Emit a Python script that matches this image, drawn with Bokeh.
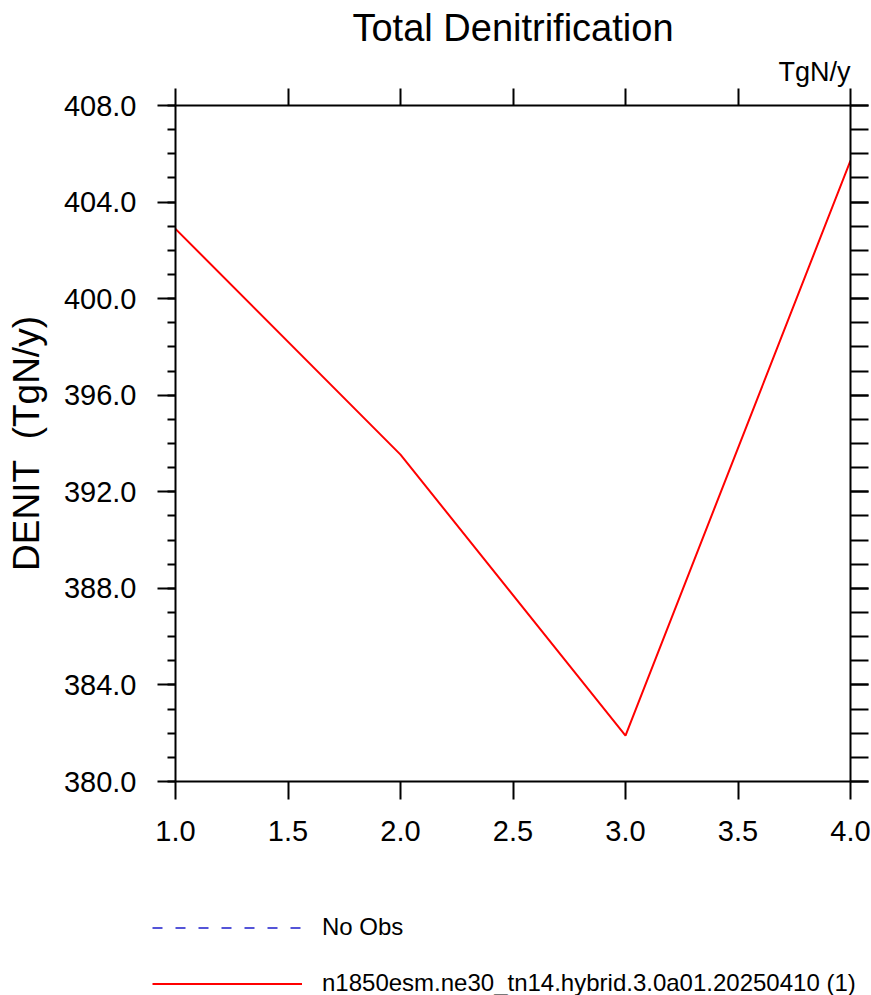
from bokeh.plotting import figure
from bokeh.layouts import column
from bokeh.models import (LinearAxis, FixedTicker, NumeralTickFormatter, Title,
                          Legend, LegendItem, Range1d)
from bokeh.embed import file_html
from bokeh.resources import INLINE

# ---- data ----
case_x = [1.0, 2.0, 3.0, 4.0]
denit = [402.89, 393.54, 381.9, 405.72]
obs_x = []
obs_y = []
x_ticks = [1.0, 1.5, 2.0, 2.5, 3.0, 3.5, 4.0]
y_ticks = [380, 384, 388, 392, 396, 400, 404, 408]
y_minor = list(range(380, 409))
title_text = "Total Denitrification"
units_text = "TgN/y"
ylabel_text = "DENIT\u00a0 (TgN/y)"
obs_label = "No Obs"
case_label = "n1850esm.ne30_tn14.hybrid.3.0a01.20250410 (1)"

FONT = "Liberation Sans"
RED = "red"
BLUE = "#1c1ccc"

p = figure(frame_width=675, frame_height=676,
           min_border_left=175, min_border_right=21,
           min_border_top=105, min_border_bottom=75,
           x_range=Range1d(1, 4), y_range=Range1d(380, 408),
           x_axis_location=None, y_axis_location=None,
           output_backend="svg", toolbar_location=None)
p.outline_line_color = None
p.background_fill_color = "white"
p.border_fill_color = "white"
p.xgrid.grid_line_color = None
p.ygrid.grid_line_color = None


def style_axis(ax, tick_out, minor_out, ticks, labels, standoff=0):
    ax.axis_line_width = 2
    ax.axis_line_color = "black"
    ax.major_tick_line_width = 2
    ax.minor_tick_line_width = 2
    ax.major_tick_in = 0
    ax.minor_tick_in = 0
    ax.major_tick_out = tick_out
    ax.minor_tick_out = minor_out
    if labels:
        ax.major_label_text_font = FONT
        ax.major_label_text_font_size = "29px"
        ax.major_label_text_color = "black"
        ax.major_label_standoff = standoff
    else:
        ax.major_label_overrides = {t: "" for t in ticks}
        ax.major_label_text_font_size = "1px"
        ax.major_label_standoff = 0


fmt = NumeralTickFormatter(format="0.0")

left = LinearAxis(ticker=FixedTicker(ticks=y_ticks, minor_ticks=y_minor), formatter=fmt)
style_axis(left, 18, 8, y_ticks, True, 21)
left.axis_label = ylabel_text
left.axis_label_text_font = FONT
left.axis_label_text_font_size = "37px"
left.axis_label_text_font_style = "normal"
left.axis_label_text_color = "black"
left.axis_label_standoff = 14
p.add_layout(left, "left")

right = LinearAxis(ticker=FixedTicker(ticks=y_ticks, minor_ticks=y_minor), formatter=fmt)
style_axis(right, 18, 18, y_ticks, False)
p.add_layout(right, "right")

bottom = LinearAxis(ticker=FixedTicker(ticks=x_ticks, minor_ticks=[]), formatter=fmt)
style_axis(bottom, 18, 0, x_ticks, True, 21)
p.add_layout(bottom, "below")

top = LinearAxis(ticker=FixedTicker(ticks=x_ticks, minor_ticks=[]), formatter=fmt)
style_axis(top, 17, 0, x_ticks, False)
p.add_layout(top, "above")

units = Title(text=units_text, align="right", text_font=FONT, text_font_size="27px",
              text_font_style="normal", text_color="black", standoff=4)
p.add_layout(units, "above")

p.title.text = title_text
p.title.align = "center"
p.title.text_font = FONT
p.title.text_font_size = "38px"
p.title.text_font_style = "normal"
p.title.text_color = "black"
p.title.standoff = 8

p.line(x=obs_x, y=obs_y, line_color=BLUE, line_width=1.5, line_dash="10 13")
p.line(x=case_x, y=denit, line_color=RED, line_width=2)

# ---- legend strip below the plot (its lines lie outside its own ranges) ----
leg = figure(frame_width=871, frame_height=139,
             min_border_left=0, min_border_right=0, min_border_top=0, min_border_bottom=0,
             x_range=Range1d(0, 1), y_range=Range1d(0, 1),
             x_axis_location=None, y_axis_location=None,
             output_backend="svg", toolbar_location=None)
leg.outline_line_color = None
leg.xgrid.grid_line_color = None
leg.ygrid.grid_line_color = None
leg.border_fill_color = "white"
leg.background_fill_color = "white"

r_obs = leg.line(x=case_x, y=denit, line_color=BLUE, line_width=1.5, line_dash="10 13")
r_case = leg.line(x=case_x, y=denit, line_color=RED, line_width=2)

legend = Legend(items=[LegendItem(label=obs_label, renderers=[r_obs]),
                       LegendItem(label=case_label, renderers=[r_case])],
                location=(152, -2), orientation="vertical",
                glyph_width=150, glyph_height=27, label_height=27,
                spacing=28, label_standoff=20, padding=0, margin=0,
                border_line_color=None, background_fill_alpha=0,
                label_text_font=FONT, label_text_font_size="24px",
                label_text_color="black")
leg.add_layout(legend)

layout = column(p, leg, spacing=0)
open("out.html", "w").write(file_html(layout, INLINE))
